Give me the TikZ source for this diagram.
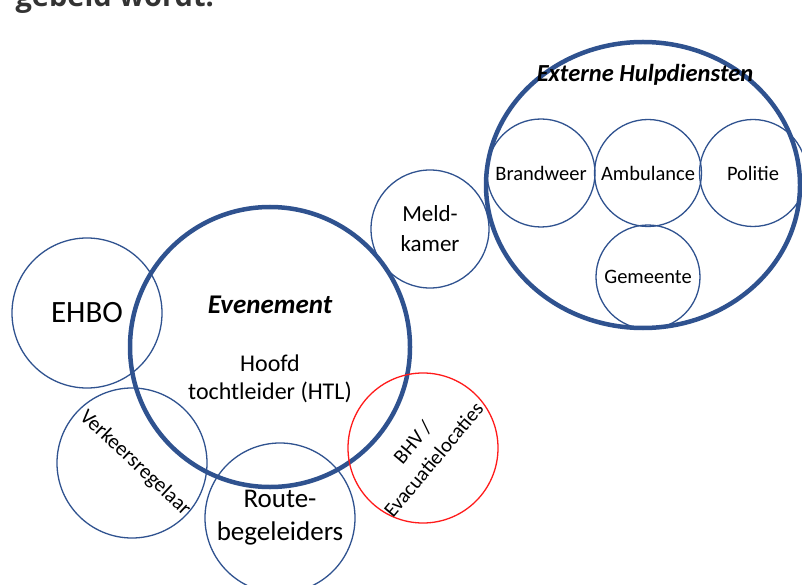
\documentclass[tikz,border=0pt]{standalone}
\usepackage{fontspec}
\setmainfont{Carlito}
\newfontfamily\kopfont{Open Sans}
\usetikzlibrary{shapes.geometric}
\definecolor{ringblue}{HTML}{2F528F}
\definecolor{ringred}{HTML}{FF1A1A}
\definecolor{kopgray}{HTML}{333333}
\tikzset{
  ring/.style = {circle, draw=ringblue, line width=1.3pt, inner sep=0pt,
    align=center, text centered},
  bigring/.style = {ring, line width=4.5pt},% thick outline
  redring/.style = {ring, draw=ringred},
  fs/.style 2 args = {font=\fontsize{#1}{#2}\selectfont},
  ttl/.style = {align=center, font=\fontsize{#1}{#1}\selectfont\bfseries\itshape}
}

\begin{document}
\begin{tikzpicture}[x=1pt,y=-1pt]
\useasboundingbox (0,0) rectangle (802,585);
\node[anchor=base west, text=kopgray, font=\kopfont\bfseries\fontsize{29}{34}\selectfont] (kop) at (12,6.5) {gebeld wordt:};

% externe hulpdiensten
\node[ellipse, draw=ringblue, line width=4.5pt, minimum width=314pt, minimum height=286pt] (extern) at (643,185) {};
\node[ttl=24.5] (externttl) at (645,75) {Externe Hulpdiensten};
\node[ring, minimum size=108pt, fs={20.5}{27}] (brand) at (541,173) {Brandweer};
\node[ring, minimum size=107pt, fs={20.5}{27}] (amb) at (648,173) {Ambulance};
\node[ring, minimum size=107pt, fs={20.5}{27}] (pol) at (753,173) {Politie};
\node[ring, minimum size=104pt, fs={20.5}{27}] (gem) at (648,277) {Gemeente};

% meldkamer
\node[ring, minimum size=118pt, fs={23}{30}] (meld) at (430,229) {Meld-\\kamer};

% evenement
\node[bigring, minimum size=280pt] (even) at (270,347) {};
\node[ttl=27] (eventtl) at (270,305) {Evenement};
\node[fs={24}{28.5}, align=center] (htl) at (270,379) {Hoofd\\tochtleider (HTL)};

% omringende cirkels
\node[ring, minimum size=150pt, fs={31}{36}] (ehbo) at (87,313) {EHBO};
\node[ring, minimum size=150pt] (verkeer) at (132,463) {};
\node[fs={21}{27}, rotate=-43] (verkeerlbl) at (135,463) {Verkeersregelaar};
\node[ring, minimum size=150pt, fs={27}{33}] (route) at (280,518) {Route-\\begeleiders};
\node[redring, minimum size=150pt] (bhv) at (423,448) {};
\node[fs={20.5}{27}, rotate=50, align=center] (bhvlbl) at (423,451) {BHV /\\Evacuatielocaties};
\end{tikzpicture}
\end{document}
